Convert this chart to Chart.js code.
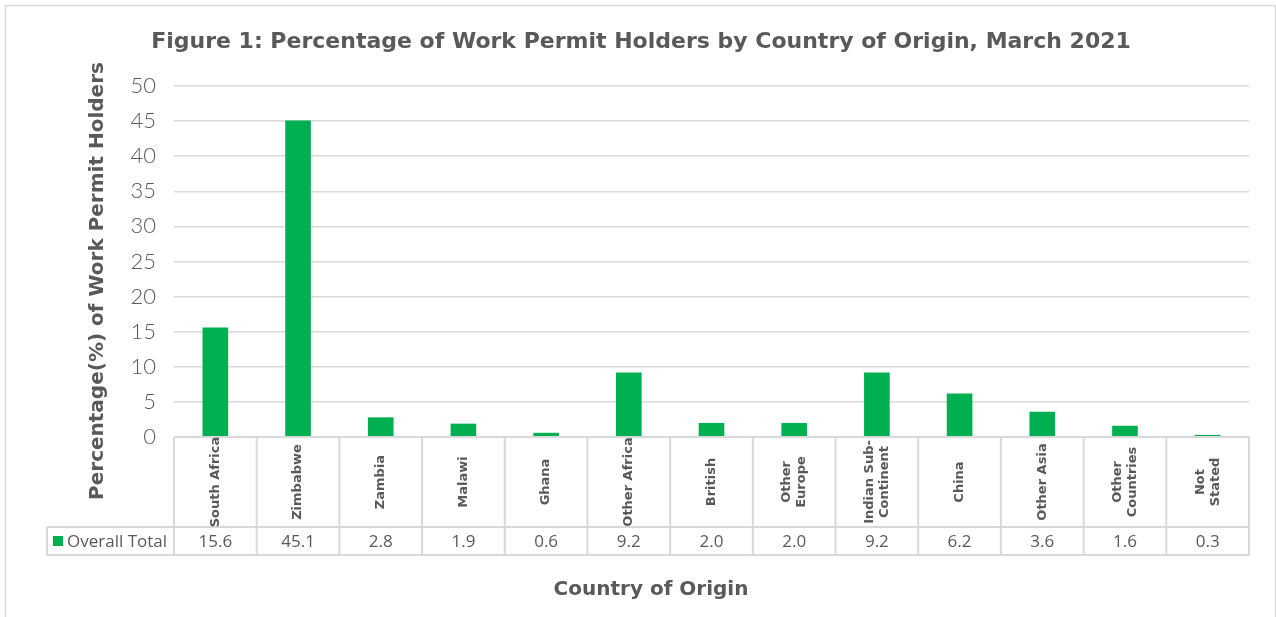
<!DOCTYPE html>
<html>
<head>
<meta charset="utf-8">
<script src="https://cdn.jsdelivr.net/npm/chart.js@4.4.0/dist/chart.umd.min.js"></script>
<style>
    body { margin: 0; background: #ffffff; }
    #wrap { width: 1276px; height: 617px; position: relative; }
</style>
</head>
<body>
<div id="wrap"><canvas id="chart"></canvas></div>
<script>
// Chart data
const countries = [
    ['South Africa'], ['Zimbabwe'], ['Zambia'], ['Malawi'], ['Ghana'], ['Other Africa'],
    ['British'], ['Other', 'Europe'], ['Indian Sub-', 'Continent'], ['China'], ['Other Asia'],
    ['Other', 'Countries'], ['Not', 'Stated']
];
const overallTotal = [15.6, 45.1, 2.8, 1.9, 0.6, 9.2, 2.0, 2.0, 9.2, 6.2, 3.6, 1.6, 0.3];
const yTicks = [0, 5, 10, 15, 20, 25, 30, 35, 40, 45, 50];

const seriesName = 'Overall Total';
const titleText = 'Figure 1: Percentage of Work Permit Holders by Country of Origin, March 2021';
const yTitle = 'Percentage(%) of Work Permit Holders';
const xTitle = 'Country of Origin';

const GREEN = '#00b050';
const GREY_TEXT = '#595959';
const LINE = '#d9d9d9';

// Draws frame, title, axis titles and the data table under the bars
const tablePlugin = {
    id: 'tablePlugin',
    afterDraw(chart) {
        const ctx = chart.ctx;
        const area = chart.chartArea;
        const x = chart.scales.x;
        const colW = (area.right - area.left) / countries.length;
        const row1Bottom = area.bottom + 90;
        const row2Bottom = row1Bottom + 28;
        const tableLeft = 47;

        ctx.save();

        // outer frame
        ctx.strokeStyle = LINE;
        ctx.lineWidth = 1.5;
        ctx.strokeRect(5.5, 5.5, 1270, 640);

        // title
        ctx.fillStyle = GREY_TEXT;
        ctx.font = 'bold 22px "DejaVu Sans"';
        ctx.textAlign = 'center';
        ctx.textBaseline = 'middle';
        ctx.fillText(titleText, 641, 42);

        // y axis title
        ctx.save();
        ctx.translate(98, 281);
        ctx.rotate(-Math.PI / 2);
        ctx.font = 'bold 20px "DejaVu Sans"';
        ctx.fillText(yTitle, 0, 0);
        ctx.restore();

        // x axis title
        ctx.font = 'bold 20px "DejaVu Sans"';
        ctx.fillText(xTitle, 651, 590);

        // table grid
        ctx.strokeStyle = LINE;
        ctx.lineWidth = 2;
        ctx.beginPath();
        ctx.moveTo(area.left, area.bottom);
        ctx.lineTo(area.right, area.bottom);
        ctx.moveTo(tableLeft, row1Bottom);
        ctx.lineTo(area.right, row1Bottom);
        ctx.moveTo(tableLeft, row2Bottom);
        ctx.lineTo(area.right, row2Bottom);
        ctx.moveTo(tableLeft, row1Bottom);
        ctx.lineTo(tableLeft, row2Bottom);
        for (let i = 0; i <= countries.length; i++) {
            const px = area.left + i * colW;
            ctx.moveTo(px, area.bottom);
            ctx.lineTo(px, row2Bottom);
        }
        ctx.stroke();

        // category labels (rotated) and values
        countries.forEach((lines, i) => {
            const cx = x.getPixelForValue(i);
            const cy = (area.bottom + row1Bottom) / 2;
            ctx.save();
            ctx.translate(cx, cy);
            ctx.rotate(-Math.PI / 2);
            ctx.font = 'bold 13px "DejaVu Sans"';
            ctx.fillStyle = GREY_TEXT;
            ctx.textAlign = 'center';
            ctx.textBaseline = 'middle';
            const lh = 15;
            lines.forEach((t, j) => {
                ctx.fillText(t, 0, (j - (lines.length - 1) / 2) * lh);
            });
            ctx.restore();

            ctx.font = '17px "Open Sans"';
            ctx.fillStyle = GREY_TEXT;
            ctx.textAlign = 'center';
            ctx.textBaseline = 'middle';
            ctx.fillText(overallTotal[i].toFixed(1), cx, (row1Bottom + row2Bottom) / 2 + 1);
        });

        // legend key in table
        ctx.fillStyle = GREEN;
        ctx.fillRect(53, 536, 10, 10);
        ctx.fillStyle = GREY_TEXT;
        ctx.font = '17px "Open Sans"';
        ctx.textAlign = 'left';
        ctx.textBaseline = 'middle';
        ctx.fillText(seriesName, 67, 542);

        ctx.restore();
    }
};

const chart = new Chart(document.getElementById('chart'), {
    type: 'bar',
    data: {
        labels: countries.map(c => c.join(' ')),
        datasets: [{
            label: seriesName,
            data: overallTotal,
            backgroundColor: GREEN,
            categoryPercentage: 1,
            barPercentage: 0.31
        }]
    },
    options: {
        responsive: true,
        maintainAspectRatio: false,
        animation: false,
        layout: {
            padding: { top: 86, right: 27, bottom: 180, left: 0 }
        },
        plugins: {
            legend: { display: false },
            title: { display: false },
            tooltip: { enabled: false }
        },
        scales: {
            x: {
                display: false
            },
            y: {
                min: 0,
                max: 50,
                afterFit(scale) { scale.width = 174; },
                afterBuildTicks(scale) { scale.ticks = yTicks.map(v => ({ value: v })); },
                border: { display: false },
                grid: { color: LINE, lineWidth: 1.5, drawTicks: false },
                ticks: {
                    color: GREY_TEXT,
                    padding: 18,
                    font: { family: 'Lato', size: 22, weight: 300 }
                }
            }
        }
    },
    plugins: [tablePlugin]
});
</script>
</body>
</html>
